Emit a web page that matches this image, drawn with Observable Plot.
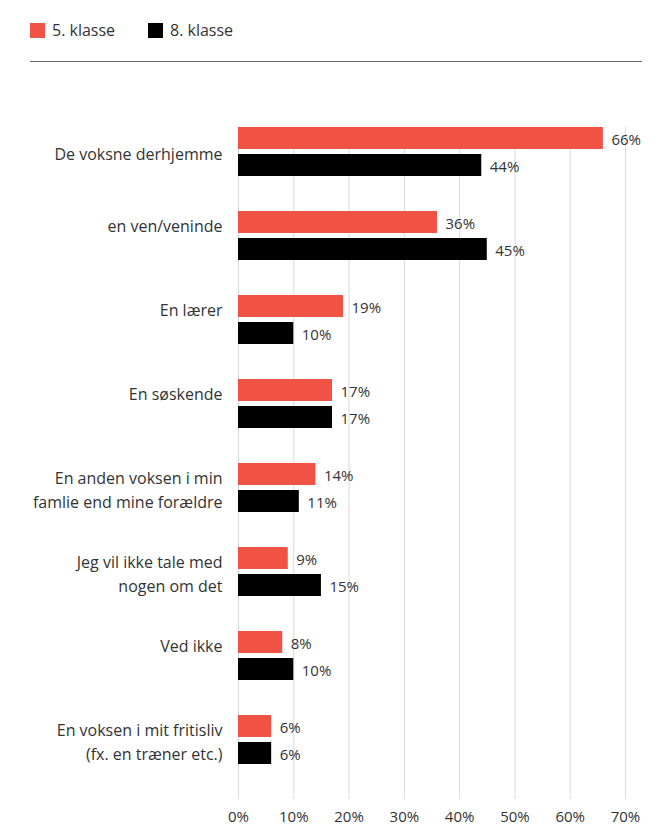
<!DOCTYPE html>
<html>
<head>
<meta charset="utf-8">
<script src="https://cdn.jsdelivr.net/npm/d3@7"></script>
<script src="https://cdn.jsdelivr.net/npm/@observablehq/plot@0.6"></script>
<style>
  html, body { margin: 0; padding: 0; background: #fff; }
  body { width: 667px; height: 828px; overflow: hidden; font-family: "Open Sans", sans-serif; color: #333; }
  #head { position: relative; height: 70px; }
  .item { position: absolute; top: 20px; display: flex; align-items: center; font-size: 16px; line-height: 20px; color: #333; }
  .sw { width: 15px; height: 15px; margin-right: 7px; }
  #rule { position: absolute; left: 30px; top: 61px; width: 612px; height: 0; border-top: 1.5px solid #666; }
</style>
</head>
<body>
<div id="head"></div>
<div id="chart"></div>
<script>
const categories = [
  "De voksne derhjemme",
  "en ven/veninde",
  "En lærer",
  "En søskende",
  "En anden voksen i min familie",
  "Jeg vil ikke tale med nogen om det",
  "Ved ikke",
  "En voksen i mit fritisliv"
];
// tick labels as they are typeset in the original (a trailing empty line lifts some labels)
const yTickLabels = [
  "De voksne derhjemme",
  "en ven/veninde\n",
  "En lærer\n",
  "En søskende\n",
  "En anden voksen i min\nfamlie end mine forældre",
  "Jeg vil ikke tale med\nnogen om det",
  "Ved ikke\n",
  "En voksen i mit fritisliv\n(fx. en træner etc.)"
];
const seriesNames = ["5. klasse", "8. klasse"];
const klasse5 = [66, 36, 19, 17, 14, 9, 8, 6];
const klasse8 = [44, 45, 10, 17, 11, 15, 10, 6];
const xTicks = [0, 10, 20, 30, 40, 50, 60, 70];

const colors = ["#f05246", "#000000"];

const rows = categories.map((c, i) => ({category: c, k5: klasse5[i], k8: klasse8[i]}));
const labelOf = new Map(categories.map((c, i) => [c, yTickLabels[i]]));

// Legend
const head = document.getElementById("head");
const legendX = [30, 148];
seriesNames.forEach((name, i) => {
  const it = document.createElement("div");
  it.className = "item";
  it.style.left = legendX[i] + "px";
  const sw = document.createElement("span");
  sw.className = "sw";
  sw.style.background = colors[i];
  const tx = document.createElement("span");
  tx.textContent = name;
  it.appendChild(sw);
  it.appendChild(tx);
  head.appendChild(it);
});
const rule = document.createElement("div");
rule.id = "rule";
head.appendChild(rule);

const chart = Plot.plot({
  width: 667,
  height: 758,
  marginTop: 57,
  marginBottom: 29,
  marginLeft: 238,
  marginRight: 42,
  style: {fontFamily: "'Open Sans', sans-serif", color: "#333", background: "#fff"},
  x: {domain: [0, 70]},
  y: {domain: categories, paddingInner: 35 / 84, paddingOuter: 0.2083, align: 0, round: false},
  marks: [
    Plot.ruleX(xTicks, {stroke: "#d9d9d9", strokeWidth: 1}),
    Plot.barX(rows, {x: "k5", y: "category", fill: colors[0], insetBottom: 27}),
    Plot.barX(rows, {x: "k8", y: "category", fill: colors[1], insetTop: 27}),
    Plot.text(rows, {x: "k5", y: "category", text: d => d.k5 + "%", dx: 8, dy: -11.5, textAnchor: "start", fill: "#333", fontSize: 15}),
    Plot.text(rows, {x: "k8", y: "category", text: d => d.k8 + "%", dx: 8, dy: 15, textAnchor: "start", fill: "#333", fontSize: 15}),
    Plot.axisY({tickSize: 0, tickPadding: 16, fontSize: 16, lineHeight: 1.5, label: null, fill: "#333", tickFormat: d => labelOf.get(d)}),
    Plot.axisX(xTicks, {tickSize: 0, tickPadding: 12, fontSize: 15, tickFormat: d => d + "%", label: null, fill: "#333"})
  ]
});
document.getElementById("chart").appendChild(chart);
</script>
</body>
</html>
